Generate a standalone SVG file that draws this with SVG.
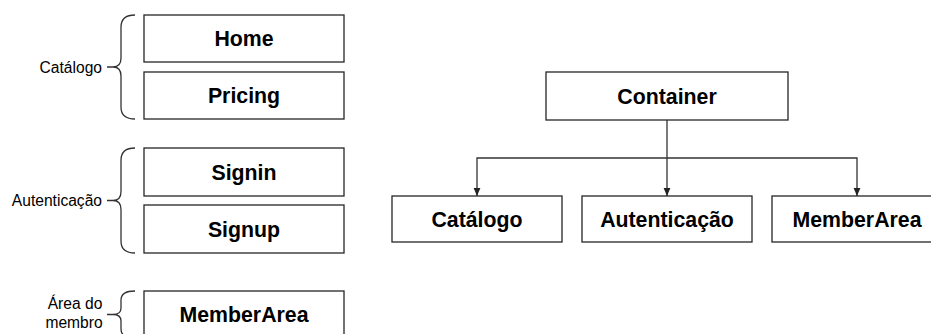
<svg xmlns="http://www.w3.org/2000/svg" width="931" height="334" viewBox="0 0 931 334">
<style>
.box{fill:#fff;stroke:#262626;stroke-width:1.3}
.t{font-family:"Liberation Sans",Arial,sans-serif;font-weight:bold;font-size:21.3px;text-anchor:middle;fill:#000}
.lbl{font-family:"Liberation Sans",Arial,sans-serif;font-size:15.6px;text-anchor:end;fill:#000}
.mid{text-anchor:middle}
.brace{fill:none;stroke:#333;stroke-width:1.3}
.edge{fill:none;stroke:#333;stroke-width:1.3}
</style>
<defs>
<marker id="arr" markerWidth="8" markerHeight="8" viewBox="0 0 8 8" refX="8" refY="4" orient="auto" markerUnits="userSpaceOnUse">
<path d="M0,0.6 L8,4 L0,7.4 Z" fill="#222"/>
</marker>
</defs>
<rect width="931" height="334" fill="#fff"/>
<g id="brace-catalogo">
<path class="brace" d="M135,15 Q121,15 121,27 L121,58 Q121,67 113,67 L107,67 M113,67 Q121,67 121,76 L121,107 Q121,119 135,119"/>
<text class="lbl" x="102" y="72.5">Catálogo</text>
</g>
<g id="brace-autenticacao">
<path class="brace" d="M135,148 Q121,148 121,160 L121,191.5 Q121,200.5 113,200.5 L107,200.5 M113,200.5 Q121,200.5 121,209.5 L121,241 Q121,253 135,253"/>
<text class="lbl" x="102" y="206">Autenticação</text>
</g>
<g id="brace-membro">
<path class="brace" d="M135,291 Q121,291 121,300 L121,308 Q121,314.5 113,314.5 L107,314.5 M113,314.5 Q121,314.5 121,321 L121,329 Q121,338 135,338"/>
<text class="lbl mid" x="75" y="309">Área do</text>
<text class="lbl mid" x="74" y="327.5">membro</text>
</g>
<g id="home"><rect class="box" x="144" y="15" width="200" height="47"/><text class="t" x="244" y="46">Home</text></g>
<g id="pricing"><rect class="box" x="144" y="72" width="200" height="47"/><text class="t" x="244" y="103">Pricing</text></g>
<g id="signin"><rect class="box" x="144" y="148" width="200" height="48"/><text class="t" x="244" y="179.5">Signin</text></g>
<g id="signup"><rect class="box" x="144" y="205" width="200" height="48"/><text class="t" x="244" y="236.5">Signup</text></g>
<g id="memberarea-left"><rect class="box" x="144" y="291" width="200" height="48"/><text class="t" x="244" y="322">MemberArea</text></g>
<g id="connectors">
<path class="edge" d="M667,120 L667,196" marker-end="url(#arr)"/>
<path class="edge" d="M667,158 L477,158 L477,196" marker-end="url(#arr)"/>
<path class="edge" d="M667,158 L857,158 L857,196" marker-end="url(#arr)"/>
</g>
<g id="container"><rect class="box" x="546" y="72" width="242" height="48"/><text class="t" x="667" y="103.5">Container</text></g>
<g id="catalogo"><rect class="box" x="392" y="196" width="170" height="46"/><text class="t" x="477" y="226.5">Catálogo</text></g>
<g id="autenticacao"><rect class="box" x="582" y="196" width="170" height="46"/><text class="t" x="667" y="226.5">Autenticação</text></g>
<g id="memberarea"><rect class="box" x="772" y="196" width="170" height="46"/><text class="t" x="857" y="226.5">MemberArea</text></g>
</svg>
